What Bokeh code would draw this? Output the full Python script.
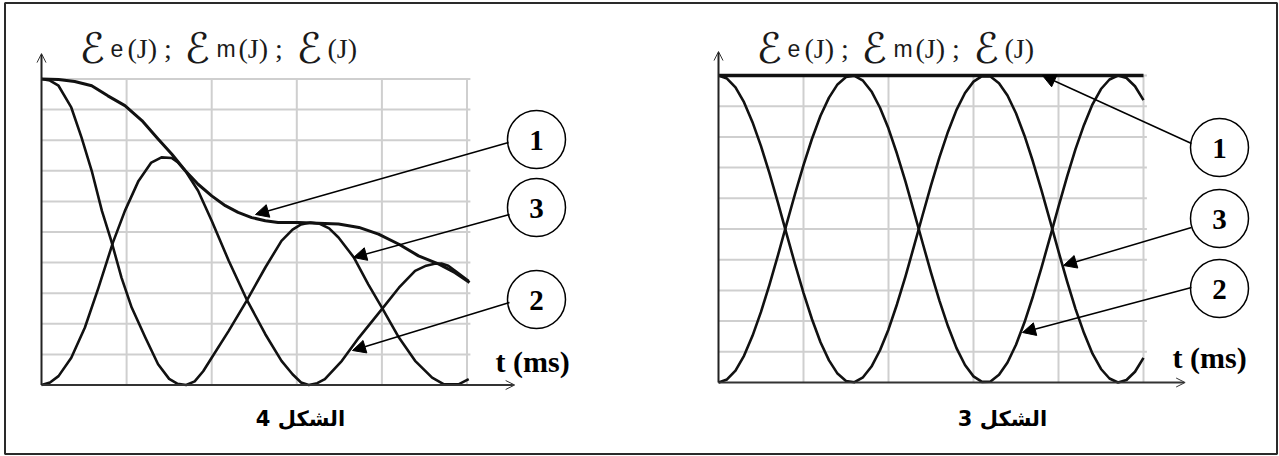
from bokeh.plotting import figure
from bokeh.models import Range1d, Arrow, NormalHead, OpenHead
from bokeh.core.properties import value
from bokeh.embed import file_html
from bokeh.resources import INLINE

# ---------------- data: figure 4 (damped) ----------------
t_ee4 = [0, 0.1, 0.2, 0.35, 0.47, 0.59, 0.71, 0.82, 0.94, 1.06, 1.22, 1.37, 1.5, 1.6, 1.7,
         1.8, 1.9, 2.0, 2.2, 2.41, 2.63, 2.82, 2.95, 3.05, 3.16, 3.27, 3.38, 3.49, 3.67,
         3.84, 4.0, 4.2, 4.39, 4.59, 4.73, 4.9, 5.02]
ee4 = [10, 9.95, 9.78, 9.07, 8.09, 7.0, 5.69, 4.71, 3.51, 2.53, 1.55, 0.68, 0.2, 0.04, 0,
       0.12, 0.45, 0.89, 1.77, 2.75, 3.84, 4.71, 5.08, 5.25, 5.31, 5.27, 5.12, 4.82, 4.17,
       3.29, 2.53, 1.55, 0.79, 0.24, 0.02, 0.02, 0.19]

t_em4 = [0, 0.1, 0.2, 0.35, 0.51, 0.67, 0.84, 0.98, 1.14, 1.29, 1.41, 1.53, 1.6, 1.69, 1.84,
         2.0, 2.2, 2.41, 2.63, 2.82, 2.95, 3.05, 3.14, 3.24, 3.33, 3.53, 3.73, 4.0, 4.2,
         4.39, 4.52, 4.62, 4.7, 4.78, 4.86, 5.02]
em4 = [0, 0.08, 0.29, 0.89, 1.88, 3.18, 4.66, 5.69, 6.67, 7.27, 7.44, 7.42, 7.28, 7.0, 6.35,
       5.37, 4.06, 2.8, 1.66, 0.79, 0.35, 0.08, 0, 0.06, 0.19, 0.79, 1.55, 2.48, 3.18,
       3.73, 3.9, 3.96, 3.97, 3.9, 3.73, 3.4]

t_e4 = [0, 0.2, 0.39, 0.59, 0.78, 0.98, 1.18, 1.37, 1.53, 1.69, 1.84, 2.0, 2.16, 2.31, 2.47,
        2.63, 2.78, 3.02, 3.25, 3.49, 3.73, 3.96, 4.2, 4.43, 4.67, 4.86, 5.03]
e4 = [10, 9.98, 9.92, 9.78, 9.45, 9.13, 8.64, 8.04, 7.55, 7.0, 6.56, 6.18, 5.86, 5.64, 5.47,
      5.37, 5.31, 5.31, 5.29, 5.26, 5.15, 4.93, 4.6, 4.22, 3.95, 3.67, 3.35]

# ---------------- data: figure 3 (undamped) ----------------
t3 = [0.0, 0.1, 0.2, 0.3, 0.4, 0.5, 0.6, 0.7, 0.8, 0.9, 1.0, 1.1, 1.2, 1.3, 1.4, 1.5, 1.6,
      1.7, 1.8, 1.9, 2.0, 2.1, 2.2, 2.3, 2.4, 2.5, 2.6, 2.7, 2.8, 2.9, 3.0, 3.1, 3.2, 3.3,
      3.4, 3.5, 3.6, 3.7, 3.8, 3.9, 4.0, 4.1, 4.2, 4.3, 4.4, 4.5, 4.6, 4.7, 4.8, 4.9, 5.0]
ee3 = [10.00, 9.90, 9.61, 9.13, 8.48, 7.70, 6.81, 5.85, 4.85, 3.86, 2.92, 2.06, 1.31, 0.72,
       0.29, 0.05, 0.01, 0.17, 0.52, 1.05, 1.73, 2.55, 3.46, 4.44, 5.44, 6.42, 7.34, 8.17,
       8.88, 9.43, 9.80, 9.98, 9.97, 9.75, 9.35, 8.77, 8.04, 7.19, 6.26, 5.27, 4.27, 3.30,
       2.40, 1.61, 0.94, 0.44, 0.13, 0.00, 0.08, 0.35, 0.80]
em3 = [0.00, 0.10, 0.39, 0.87, 1.52, 2.30, 3.19, 4.15, 5.15, 6.14, 7.08, 7.94, 8.69, 9.28,
       9.71, 9.95, 9.99, 9.83, 9.48, 8.95, 8.27, 7.45, 6.54, 5.56, 4.56, 3.58, 2.66, 1.83,
       1.12, 0.57, 0.20, 0.02, 0.03, 0.25, 0.65, 1.23, 1.96, 2.81, 3.74, 4.73, 5.73, 6.70,
       7.60, 8.39, 9.06, 9.56, 9.87, 10.00, 9.92, 9.65, 9.20]
t_e3 = [0, 5]
e3 = [10, 10]

# grid ticks (same for both panels)
grid_t = [1, 2, 3, 4, 5]
grid_e = [1, 2, 3, 4, 5, 6, 7, 8, 9, 10]

# texts
title_parts = ["ℰ", "e", "(J) ;", "ℰ", "m", "(J) ;", "ℰ", "(J)"]
axis_label = "t (ms)"
captions = ["الشكل 4", "الشكل 3"]
marker_labels = ["1", "3", "2"]

# ---------------- figure (page-pixel coordinates) ----------------
W, H = 1279, 456
X0, Y0 = 0, 0
p = figure(width=W, height=H, output_backend="svg", toolbar_location=None,
           x_range=Range1d(X0, X0 + W), y_range=Range1d(Y0 + H, Y0),
           x_axis_type=None, y_axis_type=None, min_border=0)
p.outline_line_color = None
p.background_fill_color = "white"
p.border_fill_color = "white"

# panel geometry: (origin x, px per ms-unit, origin y, px per energy unit)
panels = {"L": (41.0, 85.1, 384.5, 30.6), "R": (718.0, 85.0, 382.0, 30.7)}
xr, yr = {}, {}
for name, (ox, sx, oy, sy) in panels.items():
    xr[name] = Range1d((X0 - ox) / sx, (X0 + W - ox) / sx)
    yr[name] = Range1d((oy - (Y0 + H)) / sy, (oy - Y0) / sy)
p.extra_x_ranges = xr
p.extra_y_ranges = yr

# outer frame
p.quad(left=[4.5], right=[1276.5], bottom=[453.5], top=[2.5],
       fill_color=None, line_color="#2a2a2a", line_width=2)

GRID = "#cfcfcf"
for name in ("L", "R"):
    kw = dict(x_range_name=name, y_range_name=name)
    p.segment(x0=grid_t, x1=grid_t, y0=[0] * len(grid_t), y1=[max(grid_e)] * len(grid_t),
              line_color=GRID, line_width=2, **kw)
    p.segment(x0=[0] * len(grid_e), x1=[max(grid_t) + 0.04] * len(grid_e), y0=grid_e, y1=grid_e,
              line_color=GRID, line_width=2, **kw)

# axes with open arrow heads
ax_ext = {"L": (5.56, 10.83), "R": (5.49, 10.78)}
for name, (xe, ye) in ax_ext.items():
    p.add_layout(Arrow(x_start=0, y_start=0, x_end=xe, y_end=0, line_width=2, line_color="#333333",
                       end=OpenHead(size=9, line_width=1, line_color="#333333"),
                       x_range_name=name, y_range_name=name))
    p.add_layout(Arrow(x_start=0, y_start=0, x_end=0, y_end=ye, line_width=2, line_color="#222222",
                       end=OpenHead(size=9, line_width=1, line_color="#333333"),
                       x_range_name=name, y_range_name=name))

# curves
CURVE = "#111111"
p.line(t_ee4, ee4, line_color=CURVE, line_width=2.6, line_join="round", x_range_name="L", y_range_name="L")
p.line(t_em4, em4, line_color=CURVE, line_width=2.6, line_join="round", x_range_name="L", y_range_name="L")
p.line(t_e4, e4, line_color=CURVE, line_width=3.0, line_join="round", x_range_name="L", y_range_name="L")

p.line(t3, ee3, line_color=CURVE, line_width=2.6, line_join="round", x_range_name="R", y_range_name="R")
p.line(t3, em3, line_color=CURVE, line_width=2.6, line_join="round", x_range_name="R", y_range_name="R")
p.line(t_e3, e3, line_color=CURVE, line_width=3.5, x_range_name="R", y_range_name="R")

# numbered circles and arrows (page coordinates)
circ_x = {"L": 536, "R": 1219}
circ_y = {"L": [139, 207, 299], "R": [147, 218, 288]}
arrow_from = {"L": [(508, 142), (509, 214), (509, 302)],
              "R": [(1191, 143), (1191, 227), (1191, 287)]}
arrow_to = {"L": [(255, 214), (353, 257), (352, 350)],
            "R": [(1042, 75), (1063, 265), (1022, 332)]}
for name in ("L", "R"):
    for (xs, ys), (xe, ye) in zip(arrow_from[name], arrow_to[name]):
        p.add_layout(Arrow(x_start=xs, y_start=ys, x_end=xe, y_end=ye, line_width=1.5,
                           line_color="black",
                           end=NormalHead(size=13, fill_color="black", line_color="black",
                                          line_width=1)))
    cx = [circ_x[name]] * 3
    p.scatter(x=cx, y=circ_y[name], size=58, marker="circle", fill_color="white",
              line_color="black", line_width=1.5)
    p.text(x=cx, y=[v + 1 for v in circ_y[name]], text=marker_labels,
           text_font=value("Liberation Serif"), text_font_style="bold",
           text_font_size=value("29px"), text_align="center", text_baseline="middle",
           text_color="black")

# axis labels "t (ms)"
p.text(x=[495, 1172], y=[361, 357], text=[axis_label, axis_label],
       text_font=value("Liberation Serif"), text_font_style="bold",
       text_font_size=value("30px"), text_align="left", text_baseline="alphabetic",
       text_color="black")

# captions
p.text(x=[300, 1002], y=[418, 418], text=captions,
       text_font=value("DejaVu Sans"), text_font_style="bold",
       text_font_size=value("21px"), text_align="center", text_baseline="middle",
       text_color="black")

# titles: mixed fonts
offsets = [38, 69, 86, 143, 175, 197, 255, 286]
fonts = ["DejaVu Sans", "Liberation Sans", "Liberation Serif", "DejaVu Sans",
         "Liberation Sans", "Liberation Serif", "DejaVu Sans", "Liberation Serif"]
sizes = ["42px", "23px", "28px", "42px", "23px", "28px", "42px", "28px"]
for name in ("L", "R"):
    ox = panels[name][0]
    for off, txt, fnt, sz in zip(offsets, title_parts, fonts, sizes):
        p.text(x=[ox + off], y=[48], text=[txt], text_font=value(fnt),
               text_font_size=value(sz), text_align="left", text_baseline="alphabetic",
               text_color="#1a1a1a")

open("out.html", "w").write(file_html(p, INLINE))
